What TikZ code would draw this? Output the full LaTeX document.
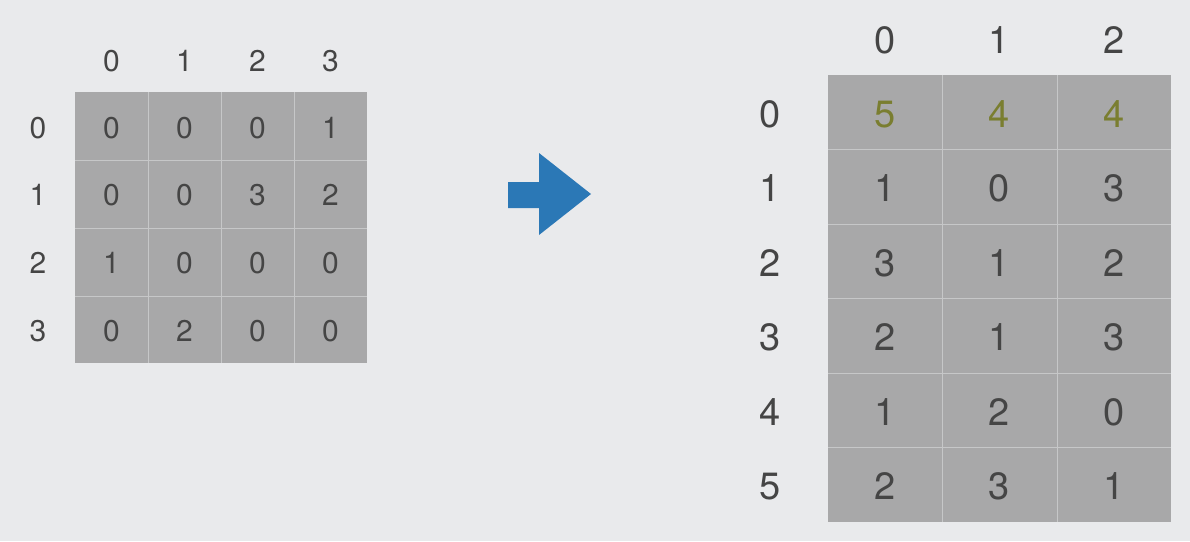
\documentclass[tikz,border=0pt]{standalone}
\usepackage{fontspec}
\setmainfont{TeX Gyre Heros}
\definecolor{bgcol}{HTML}{E9EAEC}
\definecolor{cellgray}{HTML}{A8A8A9}
\definecolor{gridcol}{HTML}{C6C7C8}
\definecolor{digitcol}{HTML}{454545}
\definecolor{oddcol}{HTML}{7A7E30}
\definecolor{arrowblue}{HTML}{2B78B6}
\begin{document}
\begin{tikzpicture}[x=1pt,y=-1pt,
    smalldigit/.style={anchor=base,inner sep=0pt,text=digitcol,font=\fontsize{30}{32}\selectfont},
    bigdigit/.style={anchor=base,inner sep=0pt,text=digitcol,font=\fontsize{38}{40}\selectfont},
    gridline/.style={gridcol,line width=1pt}]
        %% Background
        \fill[bgcol] (0,0) rectangle (1190,541);
        \useasboundingbox (0,0) rectangle (1190,541);
        %% Left Matrix
        \fill[cellgray] (75,92) rectangle (367,363);
        \foreach \x in {148,221,294} \draw[gridline] (\x,92) -- (\x,363);
        \foreach \y in {160,228,296} \draw[gridline] (75,\y) -- (367,\y);
        \foreach \c in {0,...,3} \node[smalldigit] (lhead\c) at (111.5+73*\c,71) {\c};
        \foreach \r in {0,...,3} \node[smalldigit] (lrow\r) at (38,138+67.75*\r) {\r};
        \foreach \r/\vals in {0/{0,0,0,1},1/{0,0,3,2},2/{1,0,0,0},3/{0,2,0,0}}
            \foreach \v [count=\c from 0] in \vals
                \node[smalldigit] (l\r\c) at (111.5+73*\c,138+67.75*\r) {\v};
        %% Arrow
        \fill[arrowblue] (508,182) -- (539,182) -- (539,153) -- (591,194)
            -- (539,235) -- (539,208) -- (508,208) -- cycle;
        %% Right Matrix
        \fill[cellgray] (828,75) rectangle (1171,522);
        \foreach \x in {942,1057} \draw[gridline] (\x,75) -- (\x,522);
        \foreach \y in {149.5,224,298.5,373,447.5} \draw[gridline] (828,\y) -- (1171,\y);
        \foreach \c in {0,...,2} \node[bigdigit] (rhead\c) at (885+114.3*\c,53) {\c};
        \foreach \r in {0,...,5} \node[bigdigit] (rrow\r) at (770,127+74.5*\r) {\r};
        \foreach \v [count=\c from 0] in {5,4,4}
            \node[bigdigit,text=oddcol] (r0\c) at (885+114.3*\c,127) {\v};
        \foreach \r/\vals in {1/{1,0,3},2/{3,1,2},3/{2,1,3},4/{1,2,0},5/{2,3,1}}
            \foreach \v [count=\c from 0] in \vals
                \node[bigdigit] (r\r\c) at (885+114.3*\c,127+74.5*\r) {\v};
    \end{tikzpicture}
\end{document}
